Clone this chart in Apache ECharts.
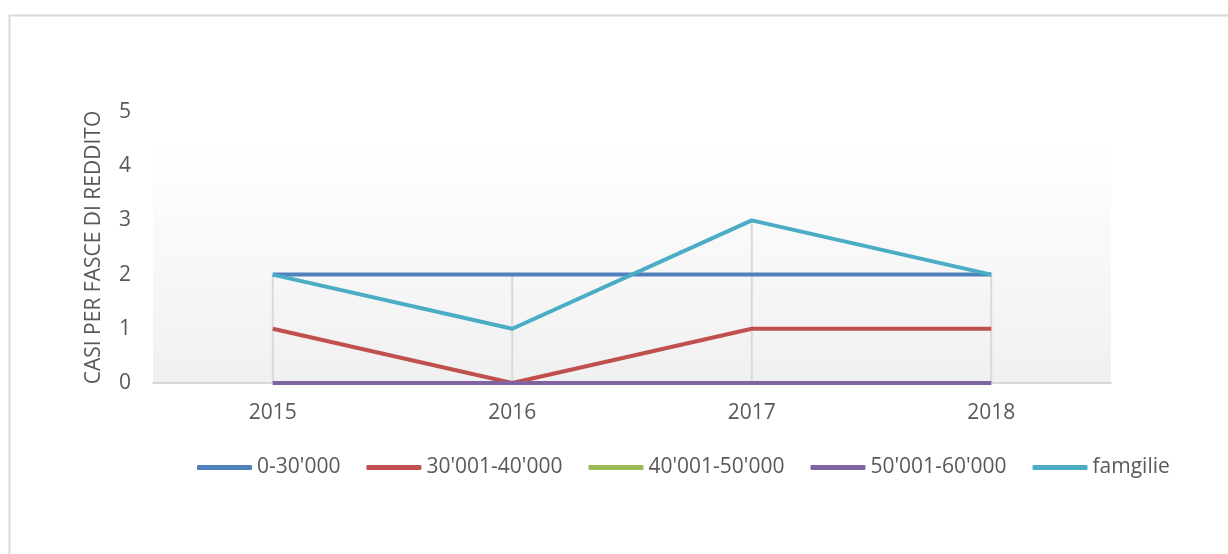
<!DOCTYPE html>
<html>
<head>
<meta charset="utf-8">
<script src="https://cdn.jsdelivr.net/npm/echarts@6/dist/echarts.min.js"></script>
<style>
  html, body { margin: 0; padding: 0; background: #fff; }
  #chart { width: 1228px; height: 554px; }
</style>
</head>
<body>
<div id="chart"></div>
<script>
// dati
const anni = ['2015', '2016', '2017', '2018']
const fascia0_30 = [2, 2, 2, 2]
const fascia30_40 = [1, 0, 1, 1]
const fascia40_50 = [0, 0, 0, 0]
const fascia50_60 = [0, 0, 0, 0]
const famiglie = [2, 1, 3, 2]

const nomiSerie = ["0-30'000", "30'001-40'000", "40'001-50'000", "50'001-60'000", 'famgilie']
const colori = ['#4F81BD', '#C0504D', '#9BBB59', '#8064A2', '#4BACC6']
const valori = [fascia0_30, fascia30_40, fascia40_50, fascia50_60, famiglie]

const font = 'Open Sans'
const grigio = '#595959'

// linee verticali min-max per ogni anno
const minMax = anni.map((a, i) => {
  const v = valori.map((s) => s[i])
  return [i, Math.min(...v), Math.max(...v)]
})

const chart = echarts.init(document.getElementById('chart'))

const option = {
  animation: false,
  color: colori,
  graphic: [
    {
      type: 'rect',
      left: 7, top: 13,
      shape: { width: 1400, height: 700 },
      style: { fill: 'none', stroke: '#d9d9d9', lineWidth: 2 },
      z: -10
    },
    {
      type: 'rect',
      left: 153, top: 142,
      shape: { width: 958, height: 241 },
      style: {
        fill: new echarts.graphic.LinearGradient(0, 0, 0, 1, [
          { offset: 0, color: '#ffffff' },
          { offset: 1, color: '#f0f0f0' }
        ])
      },
      z: -5
    }
  ],
  grid: {
    left: 153,
    right: 117,
    top: 112,
    bottom: 171,
    containLabel: false
  },
  legend: {
    left: 192,
    top: 452,
    itemWidth: 55,
    itemHeight: 5,
    itemGap: 26,
    icon: 'roundRect',
    textStyle: { fontFamily: font, fontSize: 21, color: grigio },
    data: nomiSerie
  },
  xAxis: {
    type: 'category',
    data: anni,
    boundaryGap: true,
    axisLine: { lineStyle: { color: '#d9d9d9', width: 2 } },
    axisTick: { show: false },
    axisLabel: { margin: 20, fontFamily: font, fontSize: 21, color: grigio },
    splitLine: { show: false }
  },
  yAxis: {
    type: 'value',
    min: 0,
    max: 5,
    interval: 1,
    name: 'CASI PER FASCE DI REDDITO',
    nameLocation: 'middle',
    nameGap: 48,
    nameTextStyle: { fontFamily: font, fontSize: 21, color: grigio },
    axisLine: { show: false },
    axisTick: { show: false },
    splitLine: { show: false },
    axisLabel: { margin: 22, fontFamily: font, fontSize: 21, color: grigio }
  },
  series: [
    {
      type: 'custom',
      silent: true,
      z: 1,
      data: minMax,
      renderItem: (params, api) => {
        const p1 = api.coord([api.value(0), api.value(1)])
        const p2 = api.coord([api.value(0), api.value(2)])
        return {
          type: 'line',
          shape: { x1: p1[0], y1: p1[1], x2: p2[0], y2: p2[1] },
          style: { stroke: '#d9d9d9', lineWidth: 2 }
        }
      }
    },
    ...nomiSerie.map((nome, i) => ({
      name: nome,
      type: 'line',
      data: valori[i],
      symbol: 'none',
      z: 3 + i,
      lineStyle: { width: 4, color: colori[i] },
      itemStyle: { color: colori[i] }
    }))
  ]
}

chart.setOption(option)
</script>
</body>
</html>
